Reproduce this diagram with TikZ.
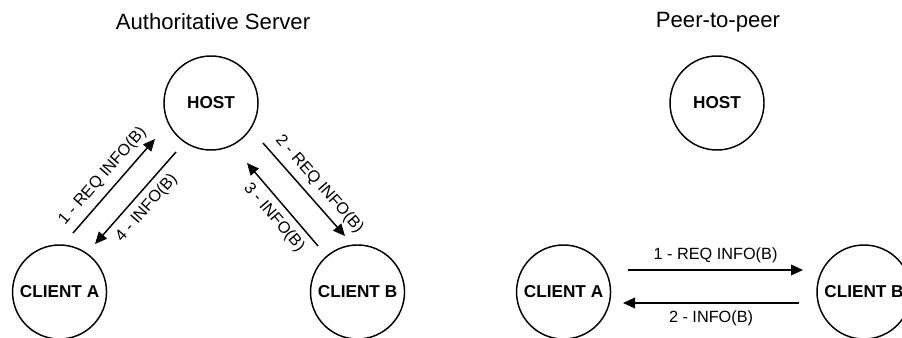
\documentclass[tikz,border=0pt]{standalone}
\usepackage{fontspec}
\setmainfont{Liberation Sans}
\usepackage{tikz}
\usetikzlibrary{arrows.meta, positioning, calc}
\tikzstyle{peer} = [circle, draw=black, line width=1.1pt, minimum size=70.5pt, inner sep=0pt, font=\bfseries\fontsize{12.9}{15}\selectfont]
\tikzstyle{heading} = [font=\fontsize{16.6}{20}\selectfont]
\tikzstyle{msg} = [-{Triangle[length=9pt,width=8pt]}, line width=1.1pt]
\tikzstyle{msglabel} = [font=\fontsize{12.2}{14}\selectfont, inner sep=1pt]

\begin{document}
\begin{tikzpicture}[x=0.75pt, y=-0.75pt, node distance=141.75pt]
\useasboundingbox (0,0) rectangle (902,338);
\clip (0,0) rectangle (902,338);
% authoritative server
\node (title1) [heading] at (213,22) {Authoritative Server};
\node (host1) [peer] at (211,103) {HOST};
\node (clientA1) [peer, below of=host1, xshift=-113.6pt] {CLIENT A};
\node (clientB1) [peer, below of=host1, xshift=109.9pt] {CLIENT B};
\draw[msg] ([shift={(13.5,-59)}]clientA1.center) -- node[msglabel, midway, sloped, above=4pt] {1 - REQ INFO(B)} ([shift={(-56,36)}]host1.center);
\draw[msg] ([shift={(-35,49)}]host1.center) -- node[msglabel, midway, sloped, below=4pt] {4 - INFO(B)} ([shift={(35.5,-48)}]clientA1.center);
\draw[msg] ([shift={(52,40)}]host1.center) -- node[msglabel, pos=0.55, sloped, above=4pt] {2 - REQ INFO(B)} ([shift={(-12.5,-56)}]clientB1.center);
\draw[msg] ([shift={(-39.5,-46)}]clientB1.center) -- node[msglabel, pos=0.46, sloped, below=4pt] {3 - INFO(B)} ([shift={(36,60)}]host1.center);
% peer-to-peer
\node (title2) [heading] at (718,22) {Peer-to-peer};
\node (host2) [peer] at (717,103) {HOST};
\node (clientA2) [peer, below of=host2, xshift=-115.1pt] {CLIENT A};
\node (clientB2) [peer, below of=host2, xshift=110.25pt] {CLIENT B};
\draw[msg] ([shift={(64.5,-22)}]clientA2.center) -- node[msglabel, midway, above=4pt] {1 - REQ INFO(B)} ([shift={(-61,-22)}]clientB2.center);
\draw[msg] ([shift={(-65,11)}]clientB2.center) -- node[msglabel, midway, below=4pt] {2 - INFO(B)} ([shift={(59.5,11)}]clientA2.center);
\end{tikzpicture}
\end{document}
